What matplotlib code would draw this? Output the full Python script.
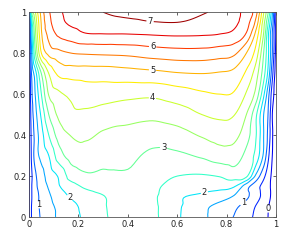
import numpy as np
import matplotlib
matplotlib.use("Agg")
import matplotlib.pyplot as plt
import matplotlib.tri as mtri

# grid positions (non-uniform: dense near the side walls)
x = [0, 0.01, 0.025, 0.05, 0.08, 0.12, 0.17, 0.23, 0.3, 0.4, 0.5,
     0.6, 0.7, 0.77, 0.83, 0.88, 0.92, 0.95, 0.97, 0.985, 1.0]
y = [0, 0.05, 0.1, 0.15, 0.2, 0.3, 0.4, 0.5, 0.6, 0.7, 0.8, 0.9, 0.95, 1.0]

# field values, one row per y
z_y000 = [-0.1, 0.5, 0.75, 1.06, 1.3, 1.58, 1.82, 2.1, 2.43, 2.7, 2.6,
          2.07, 1.61, 1.28, 0.98, 0.67, 0.39, 0.14, -0.02, -0.15, -0.3]
z_y005 = [-0.1, 0.5, 0.8, 1.1, 1.35, 1.6, 1.85, 2.15, 2.45, 2.72, 2.6,
          2.08, 1.63, 1.34, 1.1, 0.79, 0.46, 0.2, 0.0, -0.15, -0.3]
z_y010 = [-0.1, 0.45, 0.75, 1.15, 1.42, 1.75, 2.05, 2.3, 2.48, 2.72, 2.58,
          2.08, 1.9, 1.75, 1.45, 1.1, 0.68, 0.35, 0.1, -0.1, -0.3]
z_y015 = [-0.1, 0.45, 0.85, 1.25, 1.55, 1.95, 2.3, 2.58, 2.68, 2.75, 2.6,
          2.3, 2.2, 2.15, 2.05, 1.2, 0.68, 0.34, 0.09, -0.1, -0.3]
z_y020 = [-0.1, 0.4, 0.9, 1.3, 1.7, 2.05, 2.7, 2.92, 2.9, 2.92, 2.7,
          2.5, 2.45, 2.52, 2.7, 2.6, 1.35, 0.62, 0.2, -0.1, -0.3]
z_y030 = [-0.1, 0.55, 1.2, 1.65, 2.0, 2.75, 3.2, 3.24, 3.15, 3.14, 2.88,
          2.91, 3.07, 3.25, 3.26, 2.85, 2.3, 1.4, 0.55, 0.0, -0.3]
z_y040 = [-0.1, 0.6, 1.15, 1.8, 2.5, 3.2, 3.52, 3.6, 3.42, 3.36, 3.25,
          3.31, 3.55, 3.7, 3.64, 3.2, 2.5, 1.5, 0.8, 0.05, -0.3]
z_y050 = [-0.1, 0.7, 1.3, 2.1, 3.0, 3.6, 3.88, 3.9, 3.8, 3.67, 3.62,
          3.75, 4.0, 4.1, 4.02, 3.5, 2.55, 1.5, 0.9, 0.0, -0.3]
z_y060 = [-0.1, 0.85, 1.5, 2.5, 3.54, 3.9, 4.1, 4.25, 4.22, 4.15, 4.11,
          4.26, 4.43, 4.5, 4.45, 3.95, 3.3, 2.1, 1.1, 0.25, -0.3]
z_y070 = [-0.1, 1.0, 1.75, 3.0, 4.0, 4.6, 4.7, 4.72, 4.73, 4.79, 4.86,
          4.96, 5.0, 4.95, 4.85, 4.4, 3.7, 2.7, 1.75, 0.65, -0.3]
z_y080 = [-0.1, 1.4, 2.9, 4.5, 5.15, 5.35, 5.5, 5.55, 5.58, 5.62, 5.73,
          5.8, 5.8, 5.72, 5.6, 5.0, 4.25, 3.0, 2.0, 1.0, -0.2]
z_y090 = [-0.1, 1.75, 3.35, 4.95, 5.67, 6.13, 6.33, 6.52, 6.55, 6.56, 6.6,
          6.63, 6.6, 6.55, 6.42, 6.0, 4.85, 3.5, 2.0, 1.0, -0.1]
z_y095 = [-0.1, 2.1, 3.55, 5.05, 5.83, 6.33, 6.58, 6.7, 6.83, 6.9, 6.98,
          7.0, 6.88, 6.78, 6.6, 6.2, 5.3, 3.7, 2.4, 1.3, -0.1]
z_y100 = [-0.1, 2.8, 3.95, 5.2, 5.93, 6.4, 6.64, 6.8, 7.0, 7.12, 7.18,
          7.18, 7.04, 6.9, 6.65, 6.3, 5.65, 4.05, 2.9, 1.6, 0.0]

major_levels = [0, 1, 2, 3, 4, 5, 6, 7]
minor_levels = [0.5, 1.5, 2.5, 3.5, 4.5, 5.5, 6.5]

Z = np.array([z_y000, z_y005, z_y010, z_y015, z_y020, z_y030, z_y040,
              z_y050, z_y060, z_y070, z_y080, z_y090, z_y095, z_y100])
X, Y = np.meshgrid(x, y)

# regular split of each grid cell into two triangles
nx, ny = len(x), len(y)
tris = []
for j in range(ny - 1):
    for i in range(nx - 1):
        a = j * nx + i
        b = a + 1
        c = a + nx
        d = c + 1
        tris.append([a, b, d])
        tris.append([a, d, c])
tri = mtri.Triangulation(X.ravel(), Y.ravel(), np.array(tris))
interp = mtri.CubicTriInterpolator(tri, Z.ravel(), kind="geom")
refiner = mtri.UniformTriRefiner(tri)
tri_f, z_f = refiner.refine_field(Z.ravel(), triinterpolator=interp,
                                  subdiv=3)

fig = plt.figure(figsize=(2.91, 2.42), dpi=100)
ax = fig.add_axes([0.0997, 0.103, 0.8488, 0.847])

norm = plt.Normalize(vmin=-0.8, vmax=7.25)
ax.tricontour(tri_f, z_f, levels=minor_levels, cmap="jet", norm=norm,
              linewidths=0.75)
cs = ax.tricontour(tri_f, z_f, levels=major_levels, cmap="jet", norm=norm,
                   linewidths=0.75)

label_pos = [(0.49, 0.953), (0.5, 0.823), (0.5, 0.717), (0.5, 0.587),
             (0.544, 0.33), (0.16, 0.088), (0.71, 0.12), (0.043, 0.06),
             (0.87, 0.065), (0.966, 0.04)]
ax.clabel(cs, manual=label_pos, inline=True, inline_spacing=1,
          fontsize=6, colors="#222222", fmt="%g")
for t in cs.labelTexts:
    t.set_rotation(0)

ax.set_xlim(0, 1)
ax.set_ylim(0, 1)
ax.set_xticks([0, 0.2, 0.4, 0.6, 0.8, 1])
ax.set_xticklabels(["0", "0.2", "0.4", "0.6", "0.8", "1"])
ax.set_yticks([0, 0.2, 0.4, 0.6, 0.8, 1])
ax.set_yticklabels(["0", "0.2", "0.4", "0.6", "0.8", "1"])
ax.tick_params(direction="in", top=True, right=True, length=2.5,
               width=0.5, labelsize=6, pad=2, colors="#222222")
for s in ax.spines.values():
    s.set_linewidth(0.6)
    s.set_color("#555555")

fig.savefig("out.png", dpi=100)
